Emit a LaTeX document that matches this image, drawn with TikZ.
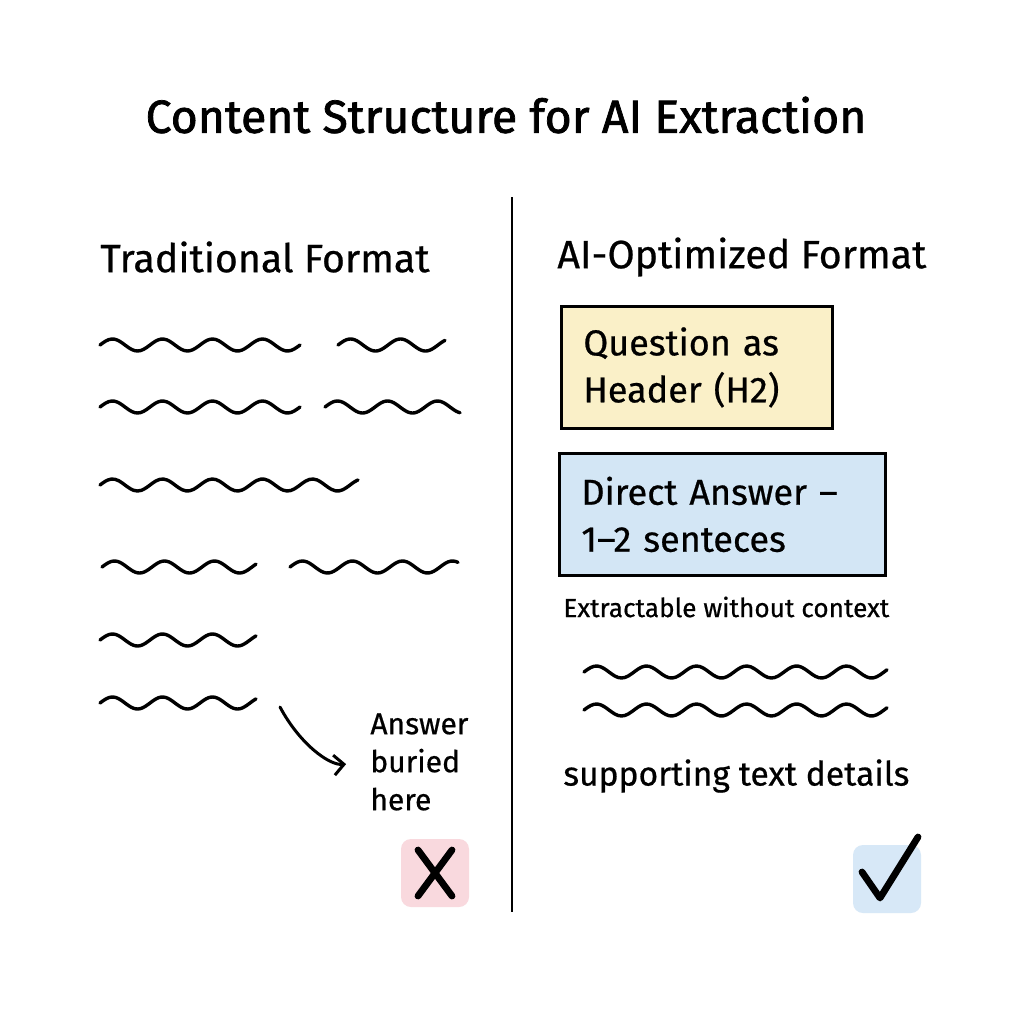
\documentclass[tikz,border=0pt]{standalone}
\usepackage{fontspec}
\setmainfont{Fira Sans}[FakeBold=0.6]
\newfontfamily\titlefont{Fira Sans}[FakeBold=1.6]
\usetikzlibrary{positioning,arrows.meta}
\definecolor{qyellow}{HTML}{FAF0C8}
\definecolor{ablue}{HTML}{D3E6F5}
\definecolor{xpink}{HTML}{F9D9DE}
\definecolor{okblue}{HTML}{D7E8F7}

\begin{document}
\begin{tikzpicture}[
  x=0.5pt,y=-0.5pt,
  squig/.style={line width=1.7pt,line cap=round,line join=round},
  head/.style={anchor=west,inner sep=0pt,font=\fontsize{19.7}{24}\selectfont},
  box/.style={draw,line width=1.4pt,anchor=north west,align=left,
              inner xsep=11pt,minimum height=61pt,
              font=\fontsize{18}{23.5}\selectfont},
  markbg/.style={rounded corners=5pt,minimum size=34pt},
  stroke/.style={line width=3.4pt,line cap=round,line join=round}
]
\useasboundingbox[fill=white] (0,0) rectangle (1024,1024);
% title
\node[font=\titlefont\fontsize{23.2}{28}\selectfont] (title) at (506,115) {Content Structure for AI Extraction};
% divider
\coordinate (divtop) at (512,197);
\coordinate (divbot) at (512,912);
\draw[line width=1.3pt] (divtop) -- (divbot);
% left column
\node[head] (trad) at (100,257) {Traditional Format};
\foreach \xa/\xb/\yy in {100/300/345, 338/445/345, 100/300/407, 325/460/407,
    100/358/485, 102/256/567, 290/458/567, 100/256/640, 100/256/703}
  \draw[squig] plot[domain=\xa:\xb,samples=70,smooth] (\x,{\yy-6*sin((\x-\xa)*7.2)});
\node[anchor=west,inner sep=0pt,align=left,font=\fontsize{15}{19}\selectfont] (ans) at (370,762)
  {Answer\\buried\\here};
\coordinate (buryfrom) at (280,707);
\draw[line width=1.5pt,line cap=round,-{Straight Barb[length=5pt,width=10pt]},shorten >=12pt]
  (buryfrom) to[out=-62,in=185] (ans.west);
\node[markbg,fill=xpink] (no) at (435,873) {};
\draw[stroke] (no.center) ++(-17,-23) -- ++(34,46);
\draw[stroke] (no.center) ++(17,-23) -- ++(-34,46);
% right column
\node[head] (aiopt) at (557,257) {AI-Optimized Format};
\node[box,fill=qyellow,text width=113.5pt] (qbox) at (560,305)
  {Question as\\Header (H2)};
\node[box,fill=ablue,text width=141pt] (dbox) at (558,452)
  {Direct Answer –\\1–2 senteces};
\node[anchor=west,inner sep=0pt,font=\fontsize{13.1}{15}\selectfont] (extr) at (563,607) {Extractable without context};
\foreach \yy in {672,710}
  \draw[squig] plot[domain=584:887,samples=90,smooth] (\x,{\yy-6*sin((\x-584)*7.2)});
\node[anchor=west,inner sep=0pt,font=\fontsize{16.8}{20}\selectfont] (supp) at (563,776) {supporting text details};
\node[markbg,fill=okblue] (yes) at (887,879) {};
\draw[stroke] (862,872) -- (880,898) -- (918,837);
\end{tikzpicture}
\end{document}
